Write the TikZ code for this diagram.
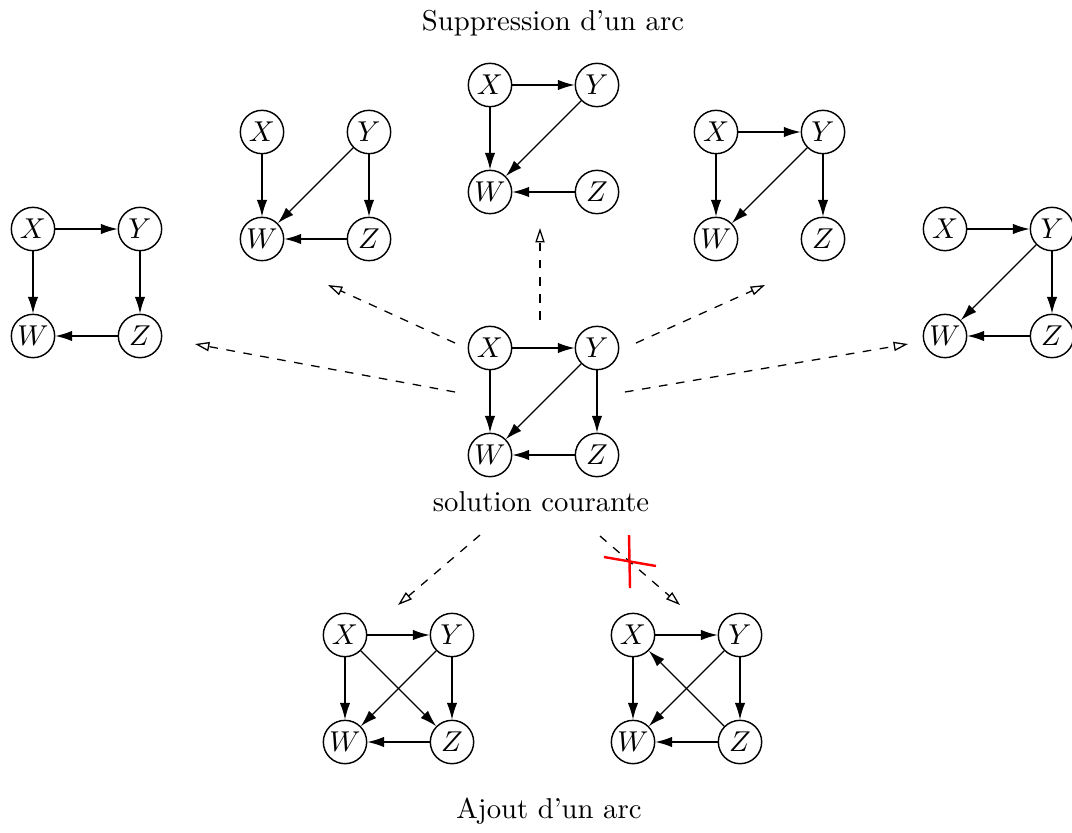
\documentclass[tikz,border=0pt]{standalone}
\usetikzlibrary{arrows.meta}
\tikzset{
  vn/.style={circle,draw,line width=0.5pt,minimum size=15.1pt,inner sep=0pt},
  ed/.style={line width=0.45pt,-{Latex[length=5.8pt,width=3.6pt]}},
  move/.style={line width=0.45pt,dashed,-{Triangle[open,length=5pt,width=3.2pt]}},
  cross/.style={red,line width=0.85pt},
  lbl/.style={anchor=base,inner sep=0pt}
}
\newcommand\fourgraph[3]{%
  \begin{scope}[shift={(#2,#3)}]
    \node[vn] (#1X) at (0,0) {$X$};
    \node[vn] (#1Y) at (107,0) {$Y$};
    \node[vn] (#1W) at (0,107) {$W$};
    \node[vn] (#1Z) at (107,107) {$Z$};
  \end{scope}}
\begin{document}
\begin{tikzpicture}[x=0.3484pt,y=-0.3484pt]
\useasboundingbox (0,0) rectangle (1072,832);

% labels
\node[lbl] (tsup) at (553,30) {Suppression d'un arc};
\node[lbl] (tcur) at (541,511) {solution courante};
\node[lbl] (tadd) at (549,818) {Ajout d'un arc};

% graphs
\fourgraph{c}{490}{348}
\fourgraph{t}{490}{85}
\fourgraph{tl}{262}{132}
\fourgraph{tr}{716}{132}
\fourgraph{l}{33}{229}
\fourgraph{r}{945}{229}
\fourgraph{bl}{345}{635}
\fourgraph{br}{633}{635}

% center: current solution
\draw[ed] (cX) -- (cY);
\draw[ed] (cX) -- (cW);
\draw[ed] (cY) -- (cW);
\draw[ed] (cY) -- (cZ);
\draw[ed] (cZ) -- (cW);

% left
\draw[ed] (lX) -- (lY);
\draw[ed] (lX) -- (lW);
\draw[ed] (lY) -- (lZ);
\draw[ed] (lZ) -- (lW);

% top-left
\draw[ed] (tlX) -- (tlW);
\draw[ed] (tlY) -- (tlW);
\draw[ed] (tlY) -- (tlZ);
\draw[ed] (tlZ) -- (tlW);

% top-center
\draw[ed] (tX) -- (tY);
\draw[ed] (tX) -- (tW);
\draw[ed] (tY) -- (tW);
\draw[ed] (tZ) -- (tW);

% top-right
\draw[ed] (trX) -- (trY);
\draw[ed] (trX) -- (trW);
\draw[ed] (trY) -- (trW);
\draw[ed] (trY) -- (trZ);

% right
\draw[ed] (rX) -- (rY);
\draw[ed] (rY) -- (rW);
\draw[ed] (rY) -- (rZ);
\draw[ed] (rZ) -- (rW);

% bottom-left
\draw[ed] (blX) -- (blY);
\draw[ed] (blX) -- (blW);
\draw[ed] (blY) -- (blW);
\draw[ed] (blY) -- (blZ);
\draw[ed] (blZ) -- (blW);
\draw[ed] (blX) -- (blZ);

% bottom-right
\draw[ed] (brX) -- (brY);
\draw[ed] (brX) -- (brW);
\draw[ed] (brY) -- (brW);
\draw[ed] (brY) -- (brZ);
\draw[ed] (brZ) -- (brW);
\draw[ed] (brZ) -- (brX);

% dashed moves
\coordinate (sU) at (540,320);  \coordinate (eU) at (540,228);
\coordinate (sTL) at (455,343); \coordinate (eTL) at (328,285);
\coordinate (sL) at (455,392);  \coordinate (eL) at (195,344);
\coordinate (sTR) at (636,343); \coordinate (eTR) at (765,285);
\coordinate (sR) at (625,392);  \coordinate (eR) at (908,344);
\coordinate (sBL) at (480,535); \coordinate (eBL) at (398,605);
\coordinate (sBR) at (600,536); \coordinate (eBR) at (680,605);
\draw[move] (sU) -- (eU);
\draw[move] (sTL) -- (eTL);
\draw[move] (sL) -- (eL);
\draw[move] (sTR) -- (eTR);
\draw[move] (sR) -- (eR);
\draw[move] (sBL) -- (eBL);
\draw[move] (sBR) -- (eBR);

% red cross
\coordinate (k1a) at (629,535); \coordinate (k1b) at (630,588);
\coordinate (k2a) at (604,557); \coordinate (k2b) at (656,566);
\draw[cross] (k1a) -- (k1b);
\draw[cross] (k2a) -- (k2b);
\end{tikzpicture}
\end{document}
